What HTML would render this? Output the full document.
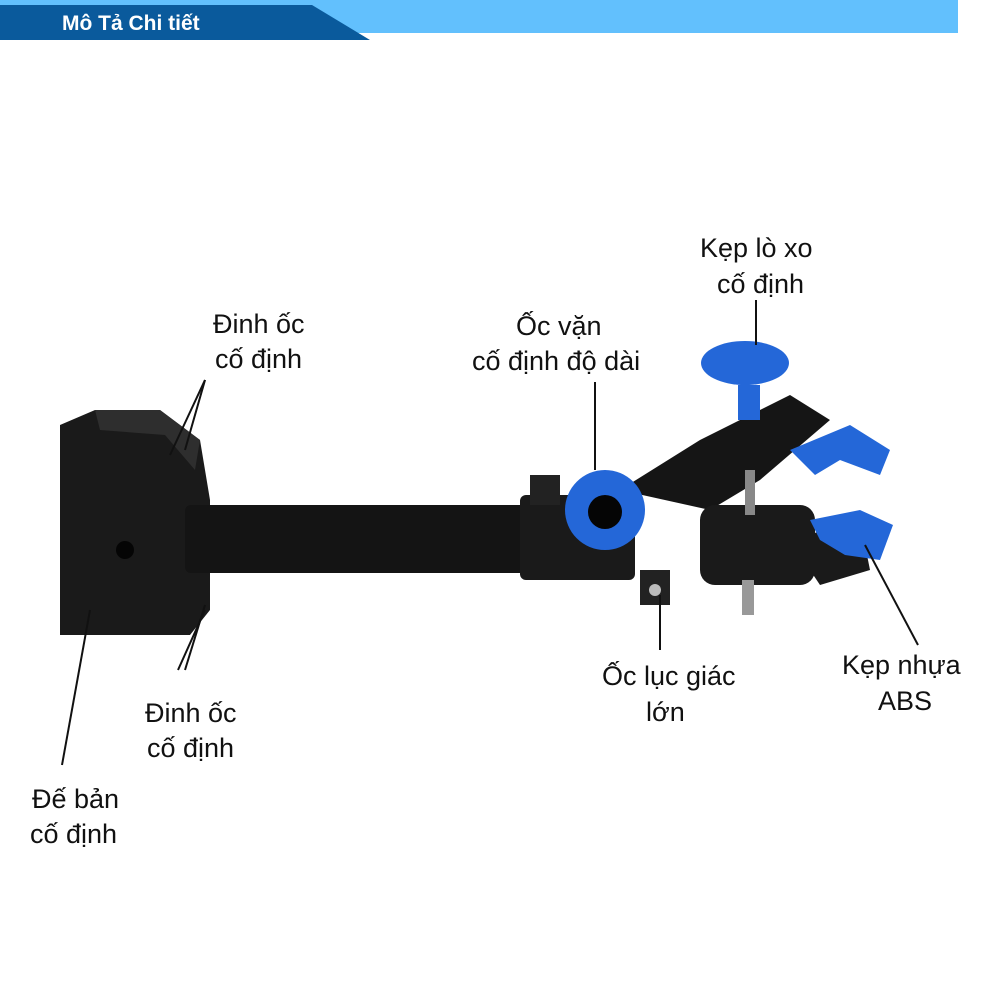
<!DOCTYPE html><html><head><style>body{margin:0;width:1000px;height:1000px;background:#fff;overflow:hidden}
svg text{font-family:"Liberation Sans",sans-serif;font-size:27px;fill:#111}</style></head><body>
<svg width="1000" height="1000" viewBox="0 0 1000 1000">
<rect x="0" y="0" width="958" height="33" fill="#62c0fd"/>
<polygon points="0,5 312,5 370,40 0,40" fill="#0a5a9c"/>
<text x="62" y="30" style="font-size:21px;font-weight:bold;fill:#fff">Mô Tả Chi tiết</text>
<!-- base -->
<polygon points="60,425 95,410 160,410 200,440 210,500 210,610 190,635 60,635" fill="#1a1a1a"/>
<polygon points="95,410 160,410 200,440 195,470 165,435 100,430" fill="#2e2e2e"/>
<circle cx="125" cy="550" r="9" fill="#050505"/>
<!-- bar -->
<rect x="185" y="505" width="345" height="68" rx="6" fill="#141414"/>
<rect x="520" y="495" width="115" height="85" rx="6" fill="#1a1a1a"/>
<rect x="530" y="475" width="30" height="30" fill="#222"/>
<rect x="640" y="570" width="30" height="35" fill="#222"/>
<circle cx="655" cy="590" r="6" fill="#bbb"/>
<!-- clamp body -->
<polygon points="620,490 700,440 790,395 830,420 760,480 710,510" fill="#151515"/>
<rect x="700" y="505" width="115" height="80" rx="15" fill="#1a1a1a"/>
<polygon points="790,540 860,520 870,570 820,585" fill="#1a1a1a"/>
<rect x="745" y="470" width="10" height="45" fill="#888"/>
<rect x="742" y="580" width="12" height="35" fill="#999"/>
<!-- knobs -->
<circle cx="605" cy="510" r="40" fill="#2467d8"/>
<circle cx="605" cy="512" r="17" fill="#050505"/>
<rect x="738" y="385" width="22" height="35" fill="#2467d8"/>
<ellipse cx="745" cy="363" rx="44" ry="22" fill="#2467d8"/>
<path d="M790,450 L850,425 L890,450 L880,475 L840,460 L815,475 Z" fill="#2467d8"/>
<path d="M810,520 L860,510 L893,525 L880,560 L845,555 L820,540 Z" fill="#2467d8"/>
<!-- leaders -->
<g stroke="#111" stroke-width="2" fill="none">
<line x1="205" y1="380" x2="170" y2="455"/><line x1="205" y1="380" x2="185" y2="450"/>
<line x1="205" y1="605" x2="185" y2="670"/><line x1="205" y1="610" x2="178" y2="670"/>
<line x1="90" y1="610" x2="62" y2="765"/>
<line x1="595" y1="382" x2="595" y2="470"/>
<line x1="756" y1="300" x2="756" y2="345"/>
<line x1="660" y1="595" x2="660" y2="650"/>
<line x1="865" y1="545" x2="918" y2="645"/>
</g>
<text x="213" y="333">Đinh ốc</text><text x="215" y="368">cố định</text>
<text x="145" y="722">Đinh ốc</text><text x="147" y="757">cố định</text>
<text x="32" y="808">Đế bản</text><text x="30" y="843">cố định</text>
<text x="516" y="335">Ốc vặn</text><text x="472" y="370">cố định độ dài</text>
<text x="700" y="257">Kẹp lò xo</text><text x="717" y="293">cố định</text>
<text x="602" y="685">Ốc lục giác</text><text x="646" y="721">lớn</text>
<text x="842" y="674">Kẹp nhựa</text><text x="878" y="710">ABS</text>
</svg></body></html>
